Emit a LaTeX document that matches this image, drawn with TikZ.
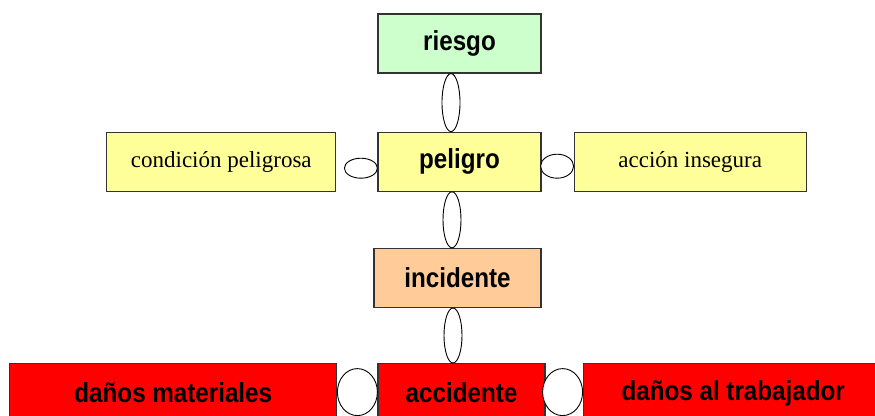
\documentclass[tikz,border=0pt]{standalone}
\usepackage{fontspec}
\setmainfont{Liberation Serif}
\newfontfamily\headfont[FakeStretch=0.88]{Liberation Sans}
\usetikzlibrary{positioning, calc, shapes.geometric}
\definecolor{riskgreen}{HTML}{CCFFCC}
\definecolor{hazyellow}{HTML}{FFFF99}
\definecolor{incorange}{HTML}{FFCC99}
\definecolor{accred}{HTML}{FF0000}
\tikzset{%
	box/.style={draw=black!80, line width=1.2pt, rectangle, minimum width=163pt,%
		minimum height=59pt, inner sep=0pt, font=\headfont\bfseries\fontsize{27.5}{30}\selectfont},
	cause/.style={box, fill=hazyellow, font=\fontsize{23}{26}\selectfont},
	joint/.style={draw, ellipse, fill=white, line width=0.9pt, inner sep=0pt}
}
\begin{document}
\begin{tikzpicture}[x=1pt, y=1pt, node distance=58pt]
	\useasboundingbox (0,0) rectangle (875,-415);
	\node[box, fill=riskgreen] (riesgo) at (459.5,-43.5) {riesgo};
	\node[box, fill=hazyellow] (peligro) [below=of riesgo] {peligro};
	\node[cause, minimum width=229pt] (cond) [left=41pt of peligro] {condición peligrosa};
	\node[cause, minimum width=232pt] (accion) [right=32pt of peligro] {acción insegura};
	\node[box, fill=incorange, minimum width=167pt, xshift=-2pt] (incidente) [below=56pt of peligro] {incidente};
	\node[box, fill=accred, minimum width=167pt, xshift=4pt] (accidente) [below=55pt of incidente] {accidente};
	\node[box, fill=accred, minimum width=327pt] (materiales) [left=40pt of accidente] {daños materiales};
	\node[box, fill=accred, minimum width=300pt] (trabajador) [right=37pt of accidente] {daños al trabajador};
	% joints
	\node[joint, minimum width=18pt, minimum height=58pt] (j-rp) at ($(riesgo.south)!0.5!(peligro.north)+(-8.5,0)$) {};
	\node[joint, minimum width=18pt, minimum height=56pt] (j-pi) at ($(peligro.south)!0.5!(incidente.north)+(-6.5,0)$) {};
	\node[joint, minimum width=18pt, minimum height=55pt] (j-ia) at ($(incidente.south)!0.5!(accidente.north)+(-6.5,0)$) {};
	\node[joint, minimum width=33pt, minimum height=20pt] (j-cp) at ($(peligro.west)+(-16.5,-6.5)$) {};
	\node[joint, minimum width=33pt, minimum height=24pt] (j-pa) at ($(peligro.east)+(15.5,-4.5)$) {};
	\node[joint, minimum width=40pt, minimum height=47pt] (j-ma) at ($(accidente.west)+(-20,1)$) {};
	\node[joint, minimum width=40pt, minimum height=47pt] (j-at) at ($(accidente.east)+(17,1)$) {};
\end{tikzpicture}
\end{document}
